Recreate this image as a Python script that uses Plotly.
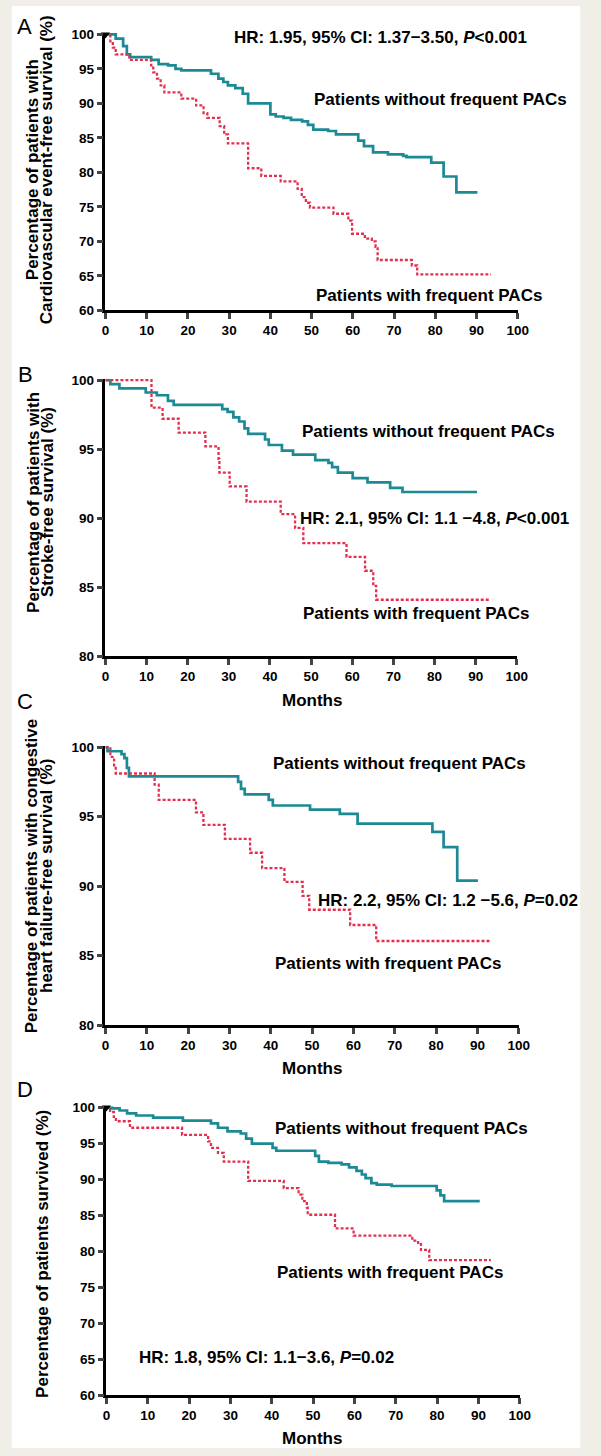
import plotly.graph_objects as go

W, H = 601, 1456

# ---------------- data (months, survival %) ----------------
x_ticks = [0, 10, 20, 30, 40, 50, 60, 70, 80, 90, 100]

# Panel A: cardiovascular event-free survival
a_wo_t = [0, 2.5, 4.3, 5.2, 6.0, 11.1, 12.9, 15.2, 17.0, 18.4, 25.6, 27.4, 28.6, 29.7, 31.5, 33.3, 34.6,
          40.0, 41.3, 43.2, 45.0, 47.7, 49.1, 50.4, 54.0, 55.9, 61.3, 62.7, 64.9, 68.5, 72.2, 73.0,
          79.0, 82.0, 85.1, 90.2]
a_wo_s = [100, 99.4, 98.3, 97.1, 96.7, 96.3, 95.7, 95.5, 95.0, 94.8, 94.3, 93.6, 93.1, 92.6, 92.2, 91.4, 90.0,
          88.4, 88.1, 87.9, 87.6, 87.4, 86.9, 86.2, 86.0, 85.5, 84.6, 83.8, 82.9, 82.6, 82.4, 82.2,
          81.4, 79.4, 77.1, 77.1]
a_w_t = [0, 1.2, 1.8, 2.5, 5.8, 11.1, 11.6, 12.5, 13.4, 14.3, 18.4, 22.0, 23.8, 24.7, 27.7, 28.8, 29.7,
         34.6, 37.8, 42.5, 46.6, 47.6, 48.6, 49.6, 55.3, 58.9, 59.8, 62.9, 64.6, 65.5, 66.0, 74.3, 75.6, 93.5]
a_w_s = [100, 99.0, 98.1, 97.1, 96.3, 95.5, 94.5, 93.6, 92.6, 91.6, 90.7, 89.7, 88.6, 87.9, 86.7, 85.5, 84.2,
         80.6, 79.5, 78.7, 77.6, 76.4, 75.6, 74.9, 74.0, 73.0, 71.1, 70.4, 70.0, 69.2, 67.3, 66.5, 65.2, 65.2]

# Panel B: stroke-free survival
b_wo_t = [0, 1.2, 3.4, 9.8, 12.5, 15.2, 16.6, 28.4, 29.7, 31.1, 32.5, 33.8, 34.7, 38.8, 39.7, 42.9, 45.6,
          51.0, 54.2, 55.1, 56.5, 60.1, 63.7, 69.2, 72.2, 90.3]
b_wo_s = [100, 99.7, 99.4, 99.1, 98.9, 98.5, 98.2, 97.9, 97.7, 97.3, 97.0, 96.5, 96.1, 95.7, 95.3, 94.9, 94.6,
          94.2, 94.0, 93.7, 93.3, 92.9, 92.6, 92.2, 91.9, 91.9]
b_w_t = [0, 11.2, 13.9, 17.8, 24.3, 27.5, 27.7, 30.2, 34.3, 42.6, 46.1, 48.1, 58.6, 63.1, 65.1, 65.8, 93.6]
b_w_s = [100, 98.0, 97.2, 96.2, 95.2, 94.3, 93.3, 92.3, 91.2, 90.3, 89.3, 88.2, 87.2, 86.2, 85.1, 84.1, 84.1]

# Panel C: congestive heart failure-free survival
c_wo_t = [0, 0.5, 3.9, 4.6, 5.2, 5.7, 32.1, 32.8, 33.7, 39.5, 40.5, 49.5, 56.7, 61.0, 79.1, 81.8, 85.1, 90.1]
c_wo_s = [100, 99.7, 99.5, 99.2, 98.5, 97.9, 97.5, 97.0, 96.6, 96.2, 95.8, 95.5, 95.2, 94.5, 93.9, 92.8, 90.4, 90.4]
c_w_t = [0, 1.2, 2.1, 2.5, 11.9, 12.9, 21.9, 23.7, 28.9, 35.0, 37.9, 43.3, 47.7, 49.3, 59.2, 65.5, 93.2]
c_w_s = [100, 99.3, 98.5, 98.1, 97.3, 96.2, 95.3, 94.4, 93.4, 92.4, 91.3, 90.3, 89.3, 88.3, 87.2, 86.05, 86.05]

# Panel D: overall survival
d_wo_t = [0, 1.4, 3.2, 5.0, 7.2, 11.3, 18.5, 25.3, 27.0, 29.3, 32.5, 33.8, 35.2, 40.2, 41.1, 50.5, 51.4,
          53.7, 56.9, 58.7, 60.5, 61.8, 62.7, 64.1, 65.4, 69.0, 79.9, 80.8, 81.7, 90.3]
d_wo_s = [100, 99.9, 99.6, 99.2, 98.9, 98.6, 98.2, 97.8, 97.2, 96.7, 96.4, 95.7, 95.0, 94.4, 94.0, 93.3, 92.5,
          92.3, 92.1, 91.7, 91.2, 90.7, 90.2, 89.5, 89.3, 89.1, 88.5, 87.8, 87.0, 87.0]
d_w_t = [0, 0.9, 1.8, 2.3, 5.7, 18.3, 24.6, 25.3, 27.0, 28.4, 34.3, 42.9, 46.5, 47.4, 48.5, 48.7, 55.3,
         59.8, 74.0, 75.4, 76.1, 78.1, 93.0]
d_w_s = [100, 99.4, 98.7, 98.1, 97.2, 96.2, 95.3, 94.4, 93.7, 92.5, 89.8, 88.8, 87.9, 87.0, 86.1, 85.1, 83.2,
         82.2, 81.5, 81.0, 80.2, 78.8, 78.8]

TEAL = "#1b8a94"
RED = "#e3304f"
FONT = "Liberation Sans, Arial, sans-serif"

panels = [
    dict(letter="A", wo=(a_wo_t, a_wo_s), w=(a_w_t, a_w_s), xpx=(104, 527), ytop=28.7, ybot=307.3,
         ymin=60, ext=0.2, yticks=[60, 65, 70, 75, 80, 85, 90, 95, 100], tri=True,
         letter_xy=(21.5, 21),
         ytitle=[("Percentage of patients with", 29.5), ("Cardiovascular event-free survival (%)", 44)],
         ytitle_y=165, months=None,
         notes=[("HR: 1.95, 95% CI: 1.37−3.50, <i>P</i>&lt;0.001", 30.7, 99.5),
                ("Patients without frequent PACs", 50.1, 90.5),
                ("Patients with frequent PACs", 50.6, 62.1)]),
    dict(letter="B", wo=(b_wo_t, b_wo_s), w=(b_w_t, b_w_s), xpx=(104, 526), ytop=377.7, ybot=656.7,
         ymin=80, ext=0.1, yticks=[80, 85, 90, 95, 100], tri=False,
         letter_xy=(22, 372),
         ytitle=[("Percentage of patients with", 29.5), ("Stroke-free survival (%)", 44)],
         ytitle_y=501, months=701.7,
         notes=[("Patients without frequent PACs", 47.2, 96.3),
                ("HR: 2.1, 95% CI: 1.1 −4.8, <i>P</i>&lt;0.001", 46.9, 90.0),
                ("Patients with frequent PACs", 47.6, 83.1)]),
    dict(letter="C", wo=(c_wo_t, c_wo_s), w=(c_w_t, c_w_s), xpx=(104, 528), ytop=748.3, ybot=1029,
         ymin=80, ext=0.1, yticks=[80, 85, 90, 95, 100], tri=False,
         letter_xy=(22, 702),
         ytitle=[("Percentage of patients with congestive", 28.5), ("heart failure-free survival (%)", 43.5)],
         ytitle_y=878, months=1073,
         notes=[("Patients without frequent PACs", 40.1, 98.8),
                ("HR: 2.2, 95% CI: 1.2 −5.6, <i>P</i>=0.02", 50.9, 88.95),
                ("Patients with frequent PACs", 40.6, 84.4)]),
    dict(letter="D", wo=(d_wo_t, d_wo_s), w=(d_w_t, d_w_s), xpx=(105, 529), ytop=1112.3, ybot=1402.7,
         ymin=60, ext=0.2, yticks=[60, 65, 70, 75, 80, 85, 90, 95, 100], tri=True,
         letter_xy=(21.5, 1094),
         ytitle=[("Percentage of patients survived (%)", 40)],
         ytitle_y=1260, months=1446,
         notes=[("Patients without frequent PACs", 40.2, 97.1),
                ("Patients with frequent PACs", 40.7, 77.1),
                ("HR: 1.8, 95% CI: 1.1−3.6, <i>P</i>=0.02", 7.3, 65.3)]),
]

fig = go.Figure()
annotations = []
layout = dict(width=W, height=H, margin=dict(l=0, r=0, t=0, b=0),
              paper_bgcolor="#f0eee6", plot_bgcolor="rgba(0,0,0,0)", showlegend=False,
              shapes=[dict(type="rect", xref="paper", yref="paper", x0=8 / W, x1=591 / W, y0=0, y1=1,
                           fillcolor="white", line=dict(width=0), layer="below")])

tickfont = dict(family=FONT, size=13.5, color="black", weight="bold")
for i, p in enumerate(panels):
    n = "" if i == 0 else str(i + 1)
    xa, ya = "x" + n, "y" + n
    ppu = (p["ybot"] - p["ytop"]) / (100 - p["ymin"])
    top_px = p["ytop"] - p["ext"] * ppu
    layout["xaxis" + n] = dict(domain=[p["xpx"][0] / W, p["xpx"][1] / W], range=[0, 100], anchor=ya,
                               tickvals=x_ticks, ticks="outside", ticklen=6, tickwidth=2.5,
                               showline=True, linewidth=2.5, linecolor="black", showgrid=False,
                               zeroline=False, tickfont=tickfont)
    layout["yaxis" + n] = dict(domain=[1 - p["ybot"] / H, 1 - top_px / H], range=[p["ymin"], 100 + p["ext"]],
                               anchor=xa, tickvals=p["yticks"], ticks="outside", ticklen=6, tickwidth=2.5,
                               showline=True, linewidth=2.5, linecolor="black", showgrid=False,
                               zeroline=False, tickfont=tickfont)
    fig.add_trace(go.Scatter(x=p["wo"][0], y=p["wo"][1], mode="lines", xaxis=xa, yaxis=ya,
                             line=dict(shape="hv", color=TEAL, width=2.7)))
    fig.add_trace(go.Scatter(x=p["w"][0], y=p["w"][1], mode="lines", xaxis=xa, yaxis=ya,
                             line=dict(shape="hv", color=RED, width=2.3, dash="3px,2px")))
    if p["tri"]:
        fig.add_trace(go.Scatter(x=[0], y=[100], mode="markers", xaxis=xa, yaxis=ya, cliponaxis=False,
                                 marker=dict(symbol="triangle-down", size=8, color="black")))
    for txt, mx, my in p["notes"]:
        annotations.append(dict(text="<b>" + txt + "</b>", x=mx, y=my, xref=xa, yref=ya, xanchor="left",
                                yanchor="middle", showarrow=False,
                                font=dict(family=FONT, size=17, color="black")))
    for txt, xpx in p["ytitle"]:
        annotations.append(dict(text="<b>" + txt + "</b>", x=xpx / W, y=1 - p["ytitle_y"] / H, xref="paper",
                                yref="paper", xanchor="center", yanchor="middle", textangle=-90,
                                showarrow=False, font=dict(family=FONT, size=17, color="black")))
    lx, ly = p["letter_xy"]
    annotations.append(dict(text=p["letter"], x=lx / W, y=1 - ly / H, xref="paper", yref="paper",
                            xanchor="center", yanchor="middle", showarrow=False,
                            font=dict(family=FONT, size=22, color="black")))
    if p["months"] is not None:
        annotations.append(dict(text="<b>Months</b>", x=316 / W, y=1 - p["months"] / H, xref="paper",
                                yref="paper", xanchor="center", yanchor="middle", showarrow=False,
                                font=dict(family=FONT, size=17, color="black")))

layout["annotations"] = annotations
fig.update_layout(**layout)
fig.write_html("out.html", config={"displayModeBar": False},
               post_script="document.body.style.margin='0px';document.body.style.overflow='hidden';")
